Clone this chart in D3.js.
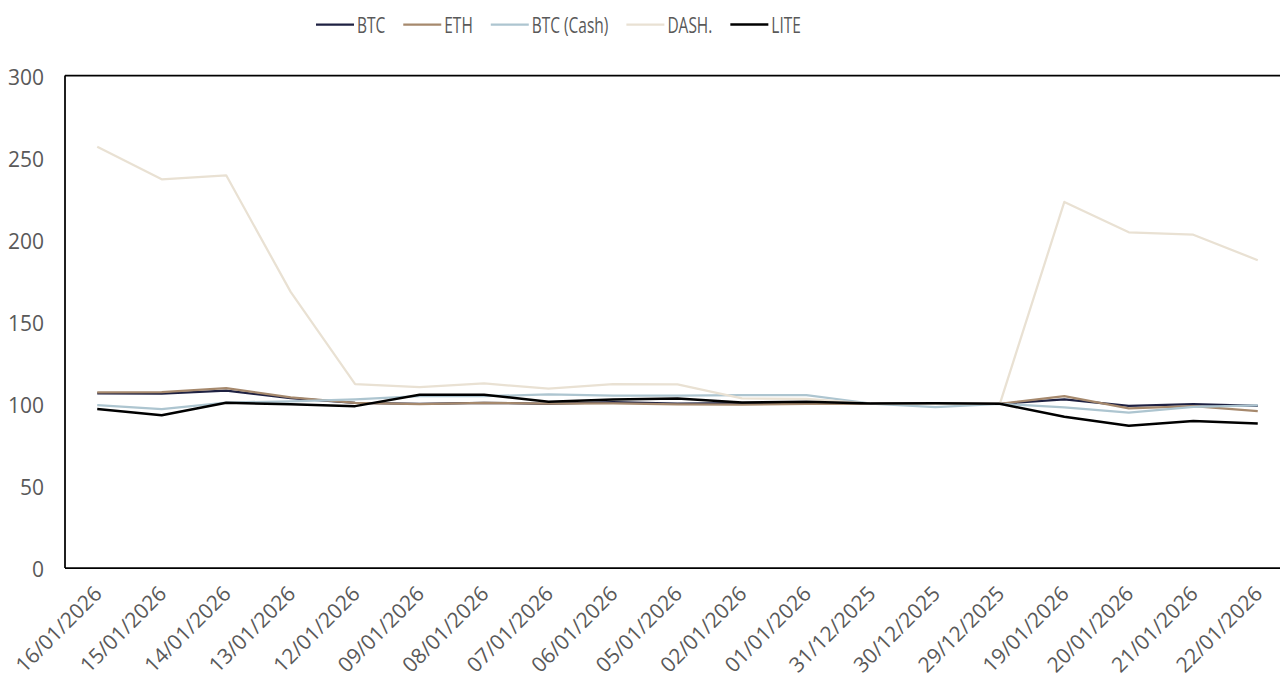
<!DOCTYPE html>
<html lang="en">
<head>
    <meta charset="UTF-8">
    <title>Crypto index</title>
    <script src="https://d3js.org/d3.v7.min.js"></script>
    <style>
        body { margin: 0; background: #fff; }
        svg { display: block; }
        text {
            font-family: "Open Sans", "Liberation Sans", sans-serif;
            fill: #595959;
        }
        .series { fill: none; stroke-linejoin: round; stroke-linecap: butt; }
    </style>
</head>
<body>
<svg id="chart" width="1280" height="682"></svg>

<script>
    // Categories (x axis, in the order shown)
    const dates = ["16/01/2026", "15/01/2026", "14/01/2026", "13/01/2026", "12/01/2026",
                   "09/01/2026", "08/01/2026", "07/01/2026", "06/01/2026", "05/01/2026",
                   "02/01/2026", "01/01/2026", "31/12/2025", "30/12/2025", "29/12/2025",
                   "19/01/2026", "20/01/2026", "21/01/2026", "22/01/2026"];

    // Series values
    const btc     = [106.3, 106.2, 108.0, 103.5, 100.6, 100.0, 100.6, 100.0, 101.0, 100.2,
                     100.5, 100.6, 100.2, 100.0, 100.0, 102.7, 98.8, 99.8, 98.8];
    const eth     = [107.0, 107.2, 109.5, 104.0, 100.6, 99.8, 100.6, 100.2, 100.3, 99.6,
                     99.5, 100.0, 100.2, 100.0, 100.0, 104.7, 97.2, 98.6, 95.5];
    const btcCash = [99.2, 96.8, 100.8, 101.5, 102.7, 104.7, 104.7, 105.7, 105.0, 105.0,
                     105.3, 105.3, 100.2, 98.0, 100.0, 97.8, 94.7, 98.2, 99.0];
    const dash    = [256.6, 236.8, 239.2, 168.2, 112.0, 110.2, 112.4, 109.3, 112.0, 111.8,
                     103.3, 103.0, 100.2, 100.0, 100.0, 223.0, 204.5, 203.0, 187.5];
    const lite    = [96.8, 93.1, 100.6, 99.8, 98.6, 105.5, 105.6, 101.2, 102.6, 103.3,
                     100.8, 101.3, 100.2, 100.4, 100.0, 92.1, 86.6, 89.6, 88.0];

    const seriesNames = ["BTC", "ETH", "BTC (Cash)", "DASH.", "LITE"];
    const seriesValues = [btc, eth, btcCash, dash, lite];
    const seriesColors = ["#1e2142", "#a6896d", "#adc5d0", "#e9e1d3", "#000000"];
    const seriesWidths = [2.25, 2.25, 2.25, 2.25, 2.5];

    const yTicks = [0, 50, 100, 150, 200, 250, 300];

    const svg = d3.select("#chart");

    const plotLeft = 65, plotRight = 1290, plotTop = 75.5, plotBottom = 568;

    const x = d3.scalePoint().domain(dates).range([plotLeft, plotRight]).padding(0.5);
    const y = d3.scaleLinear().domain([0, 300]).range([plotBottom, plotTop]);

    // Frame: left, top and bottom lines
    const frame = svg.append("g");
    frame.append("line")
        .attr("x1", plotLeft).attr("x2", plotLeft)
        .attr("y1", plotTop).attr("y2", plotBottom)
        .attr("stroke", "#000").attr("stroke-width", 1.75);
    frame.append("line")
        .attr("x1", plotLeft).attr("x2", 1280)
        .attr("y1", plotTop).attr("y2", plotTop)
        .attr("stroke", "#000").attr("stroke-width", 1.75);
    frame.append("line")
        .attr("x1", plotLeft).attr("x2", 1280)
        .attr("y1", plotBottom).attr("y2", plotBottom)
        .attr("stroke", "#000").attr("stroke-width", 1.75);

    // Y axis labels
    const yAxis = svg.append("g")
        .attr("transform", `translate(${plotLeft - 21},0)`)
        .call(d3.axisLeft(y).tickValues(yTicks).tickSize(0).tickPadding(0));
    yAxis.select(".domain").remove();
    yAxis.selectAll("text")
        .attr("font-size", 21)
        .attr("dy", "0.42em")
        .style("font-family", "'Open Sans', sans-serif")
        .attr("fill", "#595959");

    // X axis labels (rotated)
    svg.append("g")
        .selectAll("text")
        .data(dates)
        .join("text")
        .attr("transform", d => `translate(${x(d) + 6},${plotBottom + 27}) rotate(-45)`)
        .attr("text-anchor", "end")
        .attr("font-size", 21)
        .text(d => d);

    // Lines
    const line = d3.line()
        .x((d, i) => x(dates[i]))
        .y(d => y(d));

    svg.append("g")
        .selectAll("path")
        .data(seriesValues)
        .join("path")
        .attr("class", "series")
        .attr("d", d => line(d))
        .attr("stroke", (d, i) => seriesColors[i])
        .attr("stroke-width", (d, i) => seriesWidths[i]);

    // Legend
    const legend = svg.append("g");
    let lx = 316;
    seriesNames.forEach((name, i) => {
        const item = legend.append("g").attr("transform", `translate(${lx},0)`);
        item.append("line")
            .attr("x1", 0).attr("x2", 38)
            .attr("y1", 24.5).attr("y2", 24.5)
            .attr("stroke", seriesColors[i])
            .attr("stroke-width", seriesWidths[i]);
        const t = item.append("text")
            .attr("transform", "translate(41,32.5) scale(0.72,1)")
            .attr("font-size", 21.5)
            .text(name);
        const w = t.node().getComputedTextLength() * 0.72;
        lx += 41 + w + 18;
    });
</script>
</body>
</html>
